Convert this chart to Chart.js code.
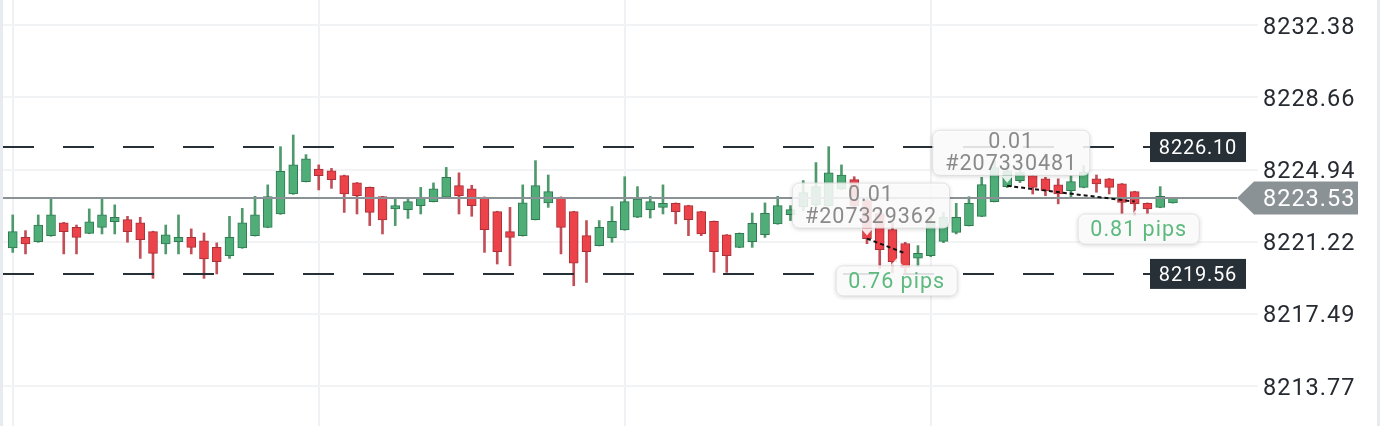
<!DOCTYPE html>
<html><head><meta charset="utf-8">
<script src="https://cdn.jsdelivr.net/npm/chart.js@4.4.1/dist/chart.umd.min.js"></script>
<style>html,body{margin:0;padding:0;background:#fff;overflow:hidden}#wrap{width:1380px;height:426px;position:relative}canvas{display:block}</style>
</head><body><div id="wrap"><canvas id="c" width="1380" height="426"></canvas></div>
<script>
// ---- data ----
const opens  = [8220.90,8221.44,8221.22,8221.53,8222.19,8221.96,8221.65,8221.96,8222.25,8222.36,8222.19,8221.74,8221.10,8221.22,8221.44,8221.27,8220.93,8220.50,8220.90,8221.53,8221.96,8222.65,8223.68,8224.32,8224.97,8224.88,8224.63,8224.25,8224.02,8223.54,8222.91,8222.87,8223.08,8223.29,8223.51,8224.11,8223.94,8223.51,8222.77,8221.74,8221.53,8222.36,8223.22,8223.51,8222.77,8221.53,8221.02,8221.41,8221.83,8222.48,8222.87,8222.99,8223.20,8223.08,8222.77,8222.27,8221.57,8220.93,8221.22,8221.58,8222.14,8222.62,8223.03,8223.13,8223.08,8223.94,8224.42,8223.34,8222.67,8221.84,8221.13,8220.37,8220.50,8221.24,8221.70,8222.05,8222.53,8223.29,8224.06,8224.37,8224.63,8224.46,8224.15,8223.85,8224.02,8224.46,8224.46,8224.20,8223.80,8223.20,8222.99,8223.22];
const highs  = [8222.60,8221.79,8222.60,8223.46,8222.22,8222.08,8222.91,8223.46,8223.12,8222.53,8222.48,8221.76,8222.08,8222.60,8221.88,8221.67,8221.16,8222.53,8222.94,8223.56,8224.15,8226.12,8226.72,8225.71,8225.18,8225.00,8224.65,8224.27,8224.04,8223.56,8223.51,8223.51,8224.02,8224.25,8225.05,8224.77,8224.13,8223.53,8222.79,8222.99,8224.15,8225.40,8224.66,8223.53,8222.79,8222.31,8222.31,8223.03,8224.57,8224.06,8223.56,8224.15,8223.22,8223.10,8222.79,8222.29,8221.59,8221.67,8222.70,8223.22,8223.56,8223.08,8224.37,8225.30,8226.12,8225.18,8224.57,8223.49,8222.93,8222.20,8221.19,8221.02,8222.51,8222.72,8223.20,8223.54,8224.54,8225.40,8225.14,8224.99,8224.65,8224.54,8224.46,8224.63,8225.14,8224.66,8224.48,8224.22,8223.82,8223.22,8224.06,8223.49];
const lows   = [8220.67,8220.59,8221.19,8221.50,8220.59,8220.59,8221.63,8221.62,8221.62,8221.19,8220.36,8219.33,8220.59,8220.59,8220.59,8219.33,8219.56,8220.36,8220.88,8221.51,8221.94,8222.63,8223.66,8224.30,8223.89,8223.97,8222.73,8222.65,8222.05,8221.62,8222.05,8222.42,8222.65,8223.27,8223.49,8222.65,8222.53,8220.67,8220.07,8219.98,8221.51,8222.34,8222.99,8220.59,8218.95,8219.12,8221.00,8221.19,8221.81,8222.46,8222.44,8222.65,8222.14,8221.53,8221.53,8219.64,8219.64,8220.91,8220.93,8221.44,8222.12,8222.31,8222.82,8223.03,8223.06,8223.92,8222.82,8221.12,8219.83,8219.62,8219.62,8219.93,8220.45,8221.17,8221.62,8222.03,8222.51,8223.27,8224.01,8224.27,8223.68,8223.59,8223.17,8223.51,8224.00,8223.77,8223.68,8222.65,8222.56,8222.65,8222.97,8223.21];
const closes = [8221.74,8221.10,8222.08,8222.60,8221.74,8221.44,8222.25,8222.60,8222.48,8221.74,8221.33,8220.62,8221.57,8221.44,8220.93,8220.33,8220.19,8221.44,8222.19,8222.60,8223.54,8224.85,8225.18,8225.49,8224.63,8224.42,8223.68,8223.59,8222.73,8222.34,8223.08,8223.29,8223.51,8223.94,8224.54,8223.59,8223.08,8221.84,8220.71,8221.44,8223.22,8224.11,8223.80,8221.96,8220.12,8220.71,8221.96,8222.27,8223.29,8223.42,8223.29,8223.20,8222.77,8222.36,8221.62,8220.71,8220.50,8221.65,8222.17,8222.68,8223.08,8222.87,8223.75,8224.06,8224.77,8224.66,8223.08,8221.38,8220.81,8220.19,8219.88,8220.62,8222.25,8222.48,8222.48,8223.20,8224.16,8225.04,8224.88,8224.78,8224.02,8223.85,8223.68,8224.32,8224.80,8224.20,8224.02,8223.25,8223.17,8222.91,8223.56,8223.48];
const yTicks = [8232.38, 8228.66, 8224.94, 8221.22, 8217.49, 8213.77];
const levelPrices = [8226.10, 8219.56];
const currentPrice = 8223.53;
const tradeLots = ['0.01', '0.01'];
const tradeIds = ['#207329362', '#207330481'];
const tradeOpenIdx = [68, 79];
const tradeCloseIdx = [71, 89];
const tradeOpenPrice = [8221.38, 8224.10];
const tradeClosePrice = [8220.62, 8223.29];
const tradePips = ['0.76 pips', '0.81 pips'];
const vGridIdx = [1, 25, 49, 73];

// ---- style ----
const GREEN = '#4fae78', GREEN_B = '#2f7a50', GREEN_W = '#4e9a6c';
const RED = '#ec424a', RED_B = '#ab3138', RED_W = '#c24f58';
const pipsDx = [-8.5, 4];
const FONT = 'Roboto, "Open Sans", sans-serif';

const isUp = i => closes[i] >= opens[i];

function rr(ctx, x, y, w, h, r) {
  ctx.beginPath();
  ctx.moveTo(x + r, y);
  ctx.arcTo(x + w, y, x + w, y + h, r);
  ctx.arcTo(x + w, y + h, x, y + h, r);
  ctx.arcTo(x, y + h, x, y, r);
  ctx.arcTo(x, y, x + w, y, r);
  ctx.closePath();
}
function bubble(ctx, x, y, w, h, px, dir) {
  ctx.save();
  ctx.shadowColor = 'rgba(0,0,0,0.18)';
  ctx.shadowBlur = 4;
  ctx.shadowOffsetY = 1;
  ctx.fillStyle = 'rgba(255,255,255,0.86)';
  rr(ctx, x, y, w, h, 7);
  ctx.fill();
  ctx.restore();
  ctx.save();
  ctx.fillStyle = 'rgba(255,255,255,0.86)';
  ctx.beginPath();
  if (dir === 'down') { ctx.moveTo(px - 6, y + h); ctx.lineTo(px, y + h + 7); ctx.lineTo(px + 6, y + h); }
  else { ctx.moveTo(px - 6, y); ctx.lineTo(px, y - 7); ctx.lineTo(px + 6, y); }
  ctx.closePath(); ctx.fill();
  ctx.strokeStyle = 'rgba(0,0,0,0.10)'; ctx.lineWidth = 1;
  rr(ctx, x + 0.5, y + 0.5, w - 1, h - 1, 7); ctx.stroke();
  ctx.restore();
}

const overlay = {
  id: 'overlay',
  beforeDraw(chart) {
    const ctx = chart.ctx;
    ctx.letterSpacing = '1px';
    ctx.save();
    ctx.fillStyle = '#ffffff';
    ctx.fillRect(0, 0, chart.width, chart.height);
    ctx.restore();
  },
  afterDatasetsDraw(chart) {
    const { ctx, chartArea: a, scales: { x, y } } = chart;
    ctx.save();
    const cy = y.getPixelForValue(currentPrice) + 1;
    ctx.strokeStyle = '#8b9296'; ctx.lineWidth = 2;
    ctx.beginPath(); ctx.moveTo(a.left, cy); ctx.lineTo(a.right - 21, cy); ctx.stroke();
    ctx.strokeStyle = '#263036'; ctx.lineWidth = 2; ctx.setLineDash([31, 29]);
    levelPrices.forEach(v => {
      const ly = y.getPixelForValue(v);
      ctx.beginPath(); ctx.moveTo(a.left + 3, ly); ctx.lineTo(a.right - 108, ly); ctx.stroke();
    });
    ctx.setLineDash([4, 3]); ctx.strokeStyle = '#111'; ctx.lineWidth = 2;
    for (let t = 0; t < tradeIds.length; t++) {
      ctx.beginPath();
      ctx.moveTo(x.getPixelForValue(tradeOpenIdx[t]), y.getPixelForValue(tradeOpenPrice[t]));
      ctx.lineTo(x.getPixelForValue(tradeCloseIdx[t]), y.getPixelForValue(tradeClosePrice[t]));
      ctx.stroke();
    }
    ctx.setLineDash([]);
    ctx.textAlign = 'center'; ctx.textBaseline = 'middle';
    ctx.letterSpacing = '1px';
    for (let t = 0; t < tradeIds.length; t++) {
      const sx = x.getPixelForValue(tradeOpenIdx[t]), sy = y.getPixelForValue(tradeOpenPrice[t]);
      const ex = x.getPixelForValue(tradeCloseIdx[t]), ey = y.getPixelForValue(tradeClosePrice[t]);
      const w1 = 158, h1 = 46, bx = sx + 4 - w1 / 2, by = sy - 10 - h1;
      bubble(ctx, bx, by, w1, h1, sx, 'down');
      ctx.fillStyle = '#8a8a8a'; ctx.font = '21.5px ' + FONT;
      ctx.fillText(tradeLots[t], bx + w1 / 2, by + 13);
      ctx.fillText(tradeIds[t], bx + w1 / 2, by + 35);
      const w2 = 122, h2 = 31, cx2 = ex + pipsDx[t], by2 = ey + 12;
      bubble(ctx, cx2 - w2 / 2, by2, w2, h2, cx2, 'up');
      ctx.fillStyle = '#5dba7e'; ctx.font = '21.5px ' + FONT;
      ctx.fillText(tradePips[t], cx2, by2 + h2 / 2 + 2);
    }
    ctx.restore();
  },
  afterDraw(chart) {
    const { ctx, chartArea: a, scales: { y } } = chart;
    ctx.save();
    ctx.textAlign = 'center'; ctx.textBaseline = 'middle';
    levelPrices.forEach(v => {
      const ly = y.getPixelForValue(v);
      ctx.fillStyle = '#263036';
      ctx.fillRect(a.right - 108, ly - 15, 96, 30);
      ctx.fillStyle = '#ffffff'; ctx.font = '20px ' + FONT; ctx.letterSpacing = '0.8px';
      ctx.fillText(v.toFixed(2), a.right - 60, ly + 2);
    });
    const cy = y.getPixelForValue(currentPrice) + 1;
    ctx.fillStyle = '#8b9296';
    ctx.beginPath();
    ctx.moveTo(a.right - 21, cy);
    ctx.lineTo(a.right - 4, cy - 16.5);
    ctx.lineTo(a.right + 100, cy - 16.5);
    ctx.lineTo(a.right + 100, cy + 16.5);
    ctx.lineTo(a.right - 4, cy + 16.5);
    ctx.closePath(); ctx.fill();
    ctx.fillStyle = '#ffffff'; ctx.textAlign = 'left'; ctx.letterSpacing = '1px';
    ctx.font = '23.5px ' + FONT;
    ctx.fillText(currentPrice.toFixed(2), a.right + 5, cy + 2);
    ctx.fillStyle = '#e7eaee';
    ctx.fillRect(0, 0, 3, chart.height);
    ctx.fillRect(chart.width - 3, 0, 3, chart.height);
    ctx.restore();
  }
};

new Chart(document.getElementById('c').getContext('2d'), {
  type: 'bar',
  data: {
    datasets: [
      {
        label: 'body',
        data: opens.map((o, i) => ({ x: i + 1, y: [o, closes[i]] })),
        backgroundColor: c => isUp(c.dataIndex) ? GREEN : RED,
        borderColor: c => isUp(c.dataIndex) ? GREEN_B : RED_B,
        borderWidth: 1, borderSkipped: false, barThickness: 9, grouped: false, order: 0
      },
      {
        label: 'wick',
        data: lows.map((l, i) => ({ x: i + 1, y: [l, highs[i]] })),
        backgroundColor: c => isUp(c.dataIndex) ? GREEN_W : RED_W,
        borderWidth: 0, barThickness: 2, grouped: false, order: 1
      }
    ]
  },
  options: {
    responsive: false, animation: false, devicePixelRatio: 1,
    layout: { padding: 0 },
    plugins: { legend: { display: false }, tooltip: { enabled: false } },
    scales: {
      x: {
        type: 'linear', min: 0, max: 98.67, offset: false,
        ticks: { display: false },
        grid: { color: '#f0f1f4', lineWidth: 2, drawTicks: false, offset: false },
        border: { display: false },
        afterBuildTicks: s => { s.ticks = vGridIdx.map(v => ({ value: v })); }
      },
      y: {
        position: 'right', min: 8211.72, max: 8233.68,
        ticks: { padding: 5, labelOffset: 2.5, color: '#262a31', font: { family: FONT, size: 23.5 }, callback: v => Number(v).toFixed(2) },
        grid: { color: '#f2f3f5', lineWidth: 2, drawTicks: false },
        border: { display: false },
        afterBuildTicks: s => { s.ticks = yTicks.map(v => ({ value: v })); },
        afterFit: s => { s.width = 122; s.paddingTop = 0; s.paddingBottom = 0; }
      }
    }
  },
  plugins: [overlay]
});
</script>
</body></html>
